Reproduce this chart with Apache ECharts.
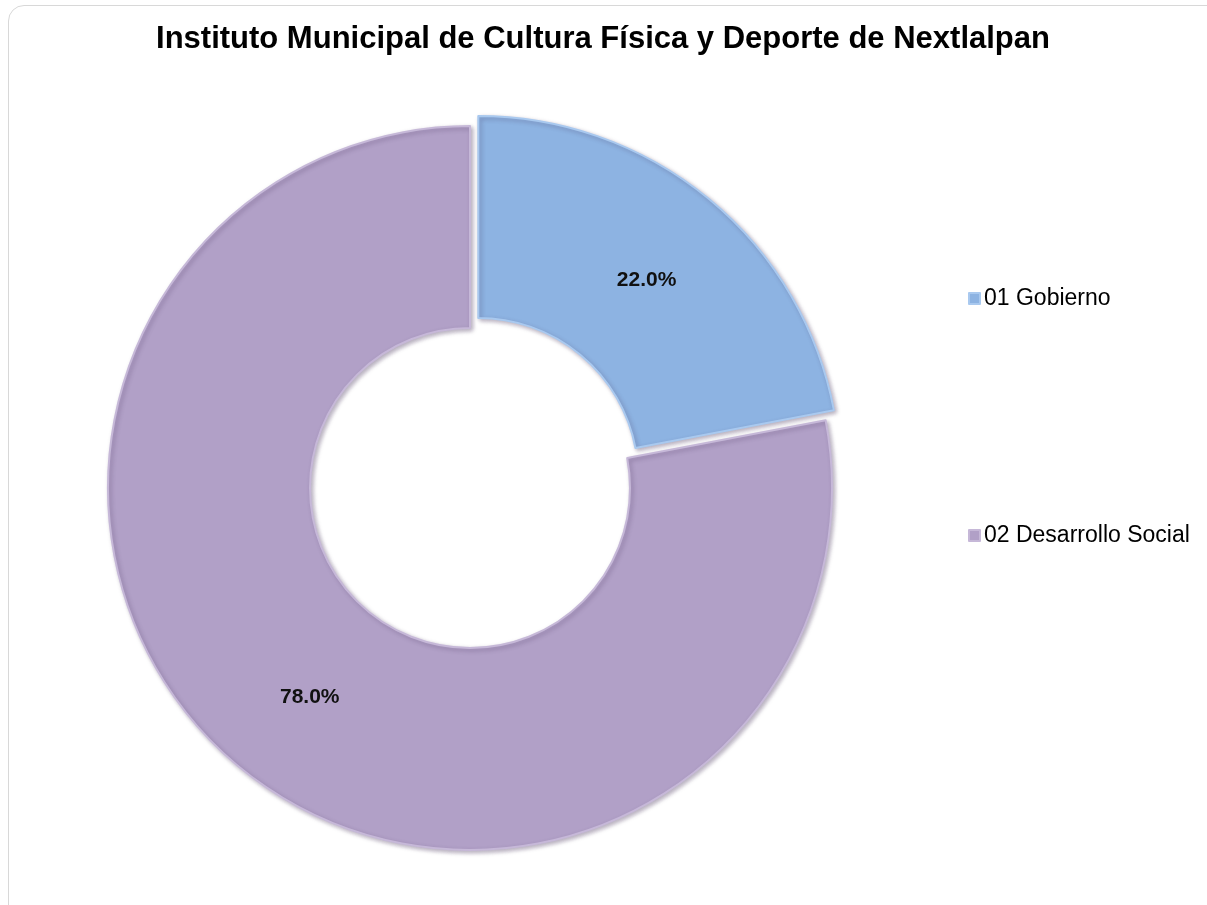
<!DOCTYPE html>
<html>
<head>
<meta charset="utf-8">
<script src="https://cdn.jsdelivr.net/npm/echarts@6/dist/echarts.min.js"></script>
<style>
html,body{margin:0;padding:0;width:1207px;height:905px;overflow:hidden;background:#fff;}
#frame{position:absolute;left:8px;top:5px;width:1260px;height:960px;border:1px solid #d8d8d8;border-radius:16px;box-sizing:border-box;}
#chart{position:absolute;left:0;top:0;width:1207px;height:905px;}
</style>
</head>
<body>
<div id="frame"></div>
<div id="chart"></div>
<script>
const titleText = 'Instituto Municipal de Cultura Física y Deporte de Nextlalpan';
const categories = ['01 Gobierno', '02 Desarrollo Social'];
const values = [22.0, 78.0];
const colors = ['#8DB3E2', '#B1A0C7'];
const borderColors = ['#A9C9EF', '#C6B8D8'];

const chart = echarts.init(document.getElementById('chart'), null, {renderer: 'canvas'});
chart.setOption({
  animation: false,
  title: {
    text: titleText,
    left: 603, top: 24, textAlign: 'center', padding: 0,
    textStyle: {fontFamily: 'Liberation Sans, Arial', fontSize: 31, fontWeight: 'bold', color: '#000'}
  },
  legend: {
    orient: 'vertical',
    left: 968, top: 287,
    padding: 0,
    itemWidth: 11, itemHeight: 11, itemGap: 214,
    icon: 'rect',
    textStyle: {fontFamily: 'Liberation Sans, Arial', fontSize: 23, color: '#000', padding: [0, 0, 0, -1]},
    data: categories
  },
  series: [{
    type: 'pie',
    center: [470, 488],
    radius: [160, 362],
    startAngle: 90,
    clockwise: true,
    selectedMode: 'single',
    selectedOffset: 13,
    avoidLabelOverlap: false,
    label: {
      show: true, position: 'inside',
      formatter: p => p.value.toFixed(1) + '%',
      fontFamily: 'Liberation Sans, Arial', fontSize: 21, fontWeight: 'bold', color: '#111'
    },
    labelLayout: p => ({dx: p.dataIndex === 1 ? 8 : 0, dy: 6}),
    labelLine: {show: false},
    emphasis: {disabled: true},
    data: categories.map((c, i) => ({
      name: c, value: values[i], selected: i === 0,
      itemStyle: {
        color: colors[i], borderColor: borderColors[i], borderWidth: 2,
        shadowColor: 'rgba(60,40,80,0.35)', shadowBlur: 4, shadowOffsetX: 2, shadowOffsetY: 2
      }
    }))
  }]
});
</script>
</body>
</html>
